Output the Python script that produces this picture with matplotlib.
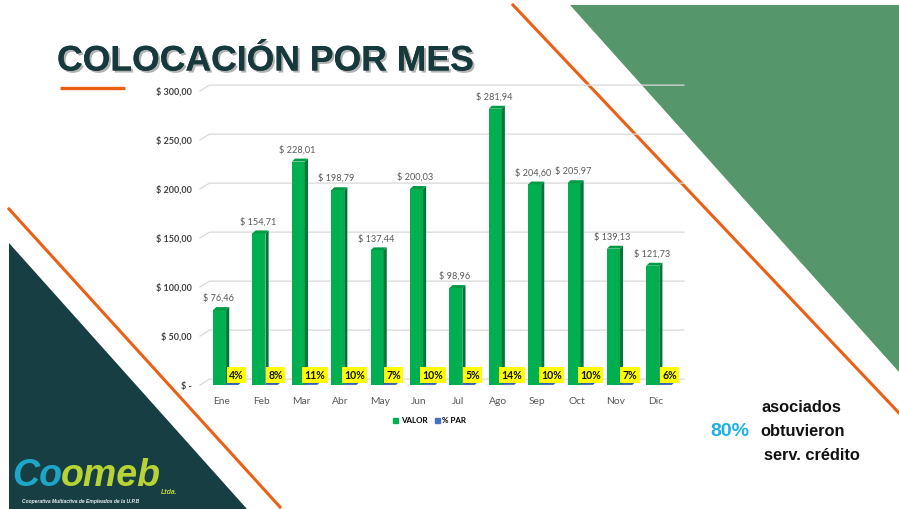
import matplotlib
matplotlib.use("Agg")
import matplotlib.pyplot as plt
import matplotlib.patheffects as pe
from matplotlib.patches import Polygon, Rectangle

# datos del grafico
meses = ["Ene", "Feb", "Mar", "Abr", "May", "Jun", "Jul", "Ago", "Sep", "Oct", "Nov", "Dic"]
valor = [76.46, 154.71, 228.01, 198.79, 137.44, 200.03, 98.96, 281.94, 204.60, 205.97, 139.13, 121.73]
par = [0.04, 0.08, 0.11, 0.10, 0.07, 0.10, 0.05, 0.14, 0.10, 0.10, 0.07, 0.06]
y_ticks = [0, 50, 100, 150, 200, 250, 300]

titulo = "COLOCACIÓN POR MES"
pct_asociados = "80%"

W, H = 899, 509
fig = plt.figure(figsize=(W / 100, H / 100), dpi=100)

# fondo de la diapositiva (coordenadas en pixeles)
bg = fig.add_axes([0, 0, 1, 1], zorder=0)
bg.set_xlim(0, W)
bg.set_ylim(H, 0)
bg.axis("off")
bg.add_patch(Polygon([(570, 5), (W, 5), (W, 372)], closed=True, color="#55966b", lw=0))
bg.add_patch(Polygon([(9, 243), (9, H), (247, H)], closed=True, color="#173f43", lw=0))
bg.plot([513, W], [5, 413], color="#eb6014", lw=2.2)
bg.plot([9, 280], [209, 507], color="#eb6014", lw=2.2)
bg.plot([60, 125], [88, 88], color="#eb6014", lw=2.4, solid_capstyle="butt")

# titulo con sombra
bg.text(57, 61, titulo, fontsize=25.6, fontweight="bold", family="Liberation Sans",
        color="#163a3c", va="center", ha="left",
        path_effects=[pe.withSimplePatchShadow(offset=(1.5, -1.5), shadow_rgbFace="#7f7f7f", alpha=0.6),
                      pe.Normal()])

# texto derecha
bg.text(762, 407, "asociados", fontsize=11.8, fontweight="bold", family="Liberation Sans",
        color="#111111", va="center")
bg.text(710, 431, pct_asociados, fontsize=14, fontweight="bold", family="Liberation Sans",
        color="#1fb0e6", va="center")
bg.text(760, 431, "obtuvieron", fontsize=11.8, fontweight="bold", family="Liberation Sans",
        color="#111111", va="center")
bg.text(764, 455, "serv. crédito", fontsize=11.8, fontweight="bold", family="Liberation Sans",
        color="#111111", va="center")

# logo: se coloca cada parte a continuacion de la anterior
fig.canvas.draw()
r = fig.canvas.get_renderer()
inv = bg.transData.inverted()
t1 = bg.text(12, 476, "Co", fontsize=27, fontweight="bold", style="italic", family="Liberation Sans",
             color="#1ea6c9", va="center")
x_fin = inv.transform(t1.get_window_extent(r))[1][0]
t2 = bg.text(x_fin - 1, 476, "omeb", fontsize=27, fontweight="bold", style="italic",
             family="Liberation Sans", color="#b7d334", va="center")
x_fin = inv.transform(t2.get_window_extent(r))[1][0]
bg.text(x_fin, 493, "Ltda.", fontsize=5, fontweight="bold", style="italic", family="Liberation Sans",
        color="#b7d334", va="center")
bg.text(22, 501, "Cooperativa Multiactiva de Empleados de la U.P.B", fontsize=3.6,
        fontweight="bold", style="italic", family="Liberation Sans", color="#e8eef0", va="center")

# grafico de barras
ax = fig.add_axes([200 / W, 124 / H, 484 / W, 294 / H], zorder=1)
ax.patch.set_alpha(0)
ax.set_xlim(-0.56, 11.73)
ax.set_ylim(0, 300)

dx, dy = 0.08, 3.0
w = 0.33
x = list(range(len(meses)))

# lineas de cuadricula con pared 3D
for t in y_ticks:
    ax.plot([-0.56, -0.32, 11.73], [t, t + 6, t + 6], color="#d9d9d9", lw=0.9,
            zorder=0, clip_on=False)

def barra_3d(xc, h, cara, lado, tapa):
    x0 = xc - w / 2
    x1 = xc + w / 2
    ax.bar(xc, h, width=w, color=cara, zorder=2)
    ax.add_patch(Polygon([(x1, 0), (x1 + dx, dy), (x1 + dx, h + dy), (x1, h)],
                         closed=True, color=lado, lw=0, zorder=2))
    ax.add_patch(Polygon([(x0, h), (x1, h), (x1 + dx, h + dy), (x0 + dx, h + dy)],
                         closed=True, color=tapa, lw=0, zorder=2))

for i in x:
    barra_3d(i - 0.063, valor[i], "#00b050", "#00753a", "#009a45")
    barra_3d(i + 0.25, par[i], "#4472c4", "#2f528f", "#3a64b0")
    ax.annotate("$ " + f"{valor[i]:.2f}".replace(".", ","), (i - 0.09, valor[i] + dy),
                xytext=(0, 3), textcoords="offset points", ha="center", va="bottom",
                fontsize=6.6, color="#595959", family="Lato")
    ax.text(i + 0.36, 10, f"{par[i] * 100:.0f}%", ha="center", va="center", fontsize=7.6,
            fontweight="bold", color="#111111", family="Lato",
            bbox=dict(boxstyle="square,pad=0.22", fc="#ffff00", ec="none"), zorder=3)

ax.set_xticks(x)
ax.set_xticklabels(meses, fontsize=7.4, color="#595959", family="Lato")
ax.set_yticks(y_ticks)
ax.set_yticklabels(["$ -"] + ["$ " + f"{t:.2f}".replace(".", ",") for t in y_ticks[1:]],
                   fontsize=6.5, fontweight="bold", color="#404040", family="Lato")
ax.tick_params(axis="x", length=0, pad=9)
ax.tick_params(axis="y", length=0, pad=6)
for s in ax.spines.values():
    s.set_visible(False)

h1 = Rectangle((0, 0), 1, 1, color="#00b050")
h2 = Rectangle((0, 0), 1, 1, color="#4472c4")
ax.legend([h1, h2], ["VALOR", "% PAR"], loc="center", bbox_to_anchor=(0.475, -0.122),
          ncol=2, frameon=False, handlelength=0.6, handleheight=0.6, handletextpad=0.3,
          columnspacing=1.0, prop={"family": "Lato", "weight": "bold", "size": 5.8})

fig.savefig("out.png", dpi=100)
